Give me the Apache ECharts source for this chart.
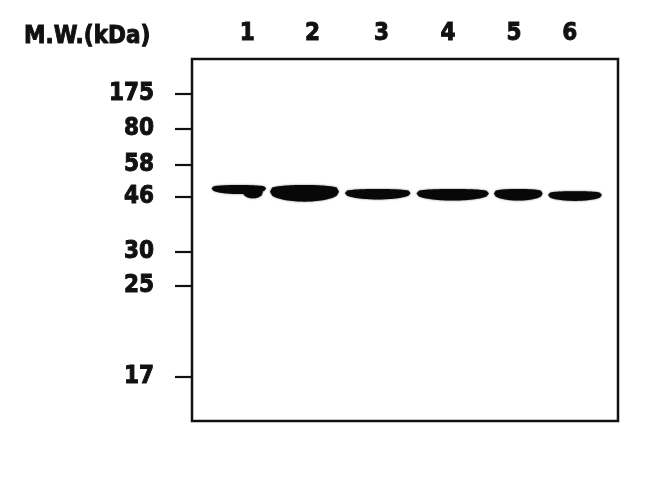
<!DOCTYPE html>
<html lang="en">
<head>
    <meta charset="utf-8">
    <title>Western blot</title>
    <style>
        html,body{margin:0;padding:0;background:#fff;}
        #blot{width:650px;height:485px;}
    </style>
</head>
<body>
<div id="blot"></div>
<script src="https://cdn.jsdelivr.net/npm/echarts@6/dist/echarts.min.js"></script>
<script>
// marker ladder: label and migration (0 = top of membrane, 100 = bottom)
var markerLabels = ['175', '80', '58', '46', '30', '25', '17'];
var markerPos = [9.7, 19.4, 29.1, 38.0, 53.2, 62.7, 87.9];

// lanes: label and horizontal position (0..100 across the membrane)
var laneNames = ['1', '2', '3', '4', '5', '6'];
var lanePos = [13.0, 28.3, 44.5, 60.1, 75.6, 88.7];

// bands: left, right, top, bottom (same units); last one is the smear on lane 1
var bandLeft   = [4.6, 18.3, 35.9, 52.7, 70.9, 83.6, 12.0];
var bandRight  = [17.4, 34.5, 51.3, 69.7, 82.3, 96.2, 16.6];
var bandTop    = [34.8, 34.8, 35.9, 35.9, 35.9, 36.5, 35.6];
var bandBottom = [37.3, 39.4, 38.8, 39.1, 39.1, 39.2, 38.5];

var font = '"DejaVu Sans Condensed", "DejaVu Sans", sans-serif';
var labelStyle = {
    fontFamily: font, fontWeight: 'bold', fontSize: 24, color: '#111',
    textBorderColor: '#111', textBorderWidth: 0.9
};

var bands = [];
for (var i = 0; i < bandLeft.length; i++) {
    bands.push([bandLeft[i], bandRight[i], bandTop[i], bandBottom[i]]);
}

function renderBand(params, api) {
    var a = api.coord([api.value(0), api.value(2)]);
    var b = api.coord([api.value(1), api.value(3)]);
    var w = b[0] - a[0], h = b[1] - a[1];
    var mid = a[1] + h * 0.4;
    var pts = [], n = 30, k, t, f;
    // top edge, left to right
    for (k = 0; k <= n; k++) {
        t = k / n;
        f = Math.pow(Math.sin(Math.PI * t), 0.22);
        pts.push([a[0] + w * t, mid - h * 0.4 * f]);
    }
    // bottom edge, right to left (bows a bit lower)
    for (k = n; k >= 0; k--) {
        t = k / n;
        f = Math.pow(Math.sin(Math.PI * t), 0.4);
        pts.push([a[0] + w * t, mid + h * 0.6 * f]);
    }
    return {
        type: 'polygon',
        shape: {points: pts},
        style: {fill: '#080808', shadowBlur: 2, shadowColor: 'rgba(0,0,0,0.6)'}
    };
}

var chart = echarts.init(document.getElementById('blot'));
chart.setOption({
    backgroundColor: '#fff',
    animation: false,
    title: {
        text: 'M.W.(kDa)',
        left: 24,
        top: 25,
        padding: 0,
        textStyle: labelStyle
    },
    grid: {
        left: 192, right: 32, top: 59, bottom: 64,
        show: true,
        borderColor: '#111',
        borderWidth: 2.5,
        backgroundColor: '#fff'
    },
    xAxis: [{
        type: 'value', min: 0, max: 100, position: 'top',
        axisLine: {show: false},
        axisTick: {show: false},
        splitLine: {show: false},
        axisLabel: Object.assign({
            customValues: lanePos,
            margin: 13,
            formatter: function (v) {
                var idx = lanePos.indexOf(v);
                return idx < 0 ? '' : laneNames[idx];
            }
        }, labelStyle)
    }],
    yAxis: [{
        type: 'value', min: 0, max: 100, inverse: true,
        offset: 7,
        axisLine: {show: false},
        splitLine: {show: false},
        axisTick: {
            show: true,
            customValues: markerPos,
            length: 17,
            lineStyle: {color: '#111', width: 2.2}
        },
        axisLabel: Object.assign({
            customValues: markerPos,
            margin: 31,
            formatter: function (v) {
                var idx = markerPos.indexOf(v);
                return idx < 0 ? '' : markerLabels[idx];
            }
        }, labelStyle)
    }],
    series: [{
        type: 'custom',
        renderItem: renderBand,
        encode: {x: [0, 1], y: [2, 3]},
        data: bands,
        clip: true
    }]
});
</script>
</body>
</html>
